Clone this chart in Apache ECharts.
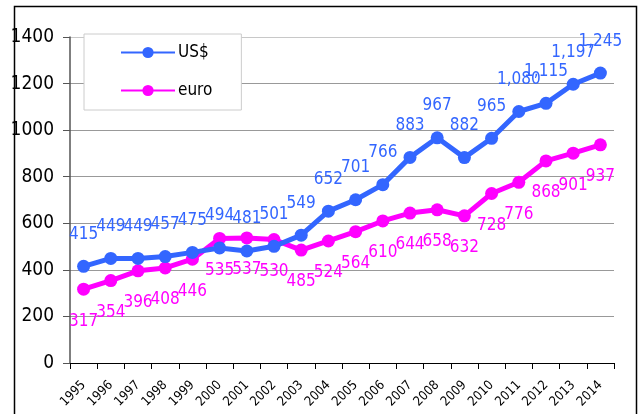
<!DOCTYPE html>
<html>
<head>
<meta charset="UTF-8">
<title>US$ / euro</title>
<style>
  html, body { margin: 0; padding: 0; background: #fff; }
  #chart { width: 643px; height: 414px; }
</style>
</head>
<body>
<div id="chart"></div>
<script src="https://cdn.jsdelivr.net/npm/echarts@6/dist/echarts.min.js"></script>
<script>
var years = ['1995', '1996', '1997', '1998', '1999', '2000', '2001', '2002', '2003', '2004',
             '2005', '2006', '2007', '2008', '2009', '2010', '2011', '2012', '2013', '2014'];
var usd = [415, 449, 449, 457, 475, 494, 481, 501, 549, 652, 701, 766, 883, 967, 882, 965, 1080, 1115, 1197, 1245];
var euro = [317, 354, 396, 408, 446, 535, 537, 530, 485, 524, 564, 610, 644, 658, 632, 728, 776, 868, 901, 937];

var narrow = '"DejaVu Sans Condensed", "Liberation Sans", sans-serif';
var blue = '#3366ff';
var pink = '#ff00ff';

function withComma(v) {
    return String(v).replace(/\B(?=(\d{3})+(?!\d))/g, ',');
}

var chart = echarts.init(document.getElementById('chart'));

var option = {
    animation: false,
    grid: { left: 70, right: 29, top: 37, bottom: 51 },
    legend: {
        orient: 'vertical',
        left: 84,
        top: 34,
        padding: [10, 29, 11, 36],
        itemGap: 21,
        itemWidth: 54,
        itemHeight: 14,
        borderColor: '#cccccc',
        borderWidth: 1,
        backgroundColor: '#fff',
        textStyle: { fontFamily: narrow, fontSize: 17, color: '#000', padding: [0, 0, 0, -2] },
        data: ['US$', 'euro']
    },
    xAxis: {
        type: 'category',
        data: years,
        boundaryGap: true,
        axisLine: { lineStyle: { color: '#000', width: 1 } },
        axisTick: { show: true, alignWithLabel: false, length: 6, lineStyle: { color: '#000' } },
        axisLabel: { rotate: 45, fontFamily: narrow, fontSize: 13, color: '#000', margin: 20, interval: 0 }
    },
    yAxis: {
        type: 'value',
        min: 0,
        max: 1400,
        interval: 200,
        axisLine: { show: true, lineStyle: { color: '#555', width: 1.5 } },
        axisTick: { show: true, length: 7, lineStyle: { color: '#555' } },
        axisLabel: {
            fontFamily: narrow, fontSize: 19, color: '#000', margin: 16,
            formatter: function (v) { return String(v); }
        },
        // top gridline is lighter in the original
        splitLine: { lineStyle: { color: ['#999', '#999', '#999', '#999', '#999', '#999', '#999', '#c8c8c8'], width: 1 } }
    },
    series: [
        {
            name: 'US$',
            type: 'line',
            data: usd,
            symbol: 'circle',
            symbolSize: 13,
            lineStyle: { color: blue, width: 5 },
            itemStyle: { color: blue },
            label: {
                show: true,
                position: 'top',
                distance: 17,
                fontFamily: narrow,
                fontSize: 17,
                color: blue,
                formatter: function (p) { return withComma(p.value); }
            },
            z: 3
        },
        {
            name: 'euro',
            type: 'line',
            data: euro,
            symbol: 'circle',
            symbolSize: 13,
            lineStyle: { color: pink, width: 5 },
            itemStyle: { color: pink },
            label: {
                show: true,
                position: 'bottom',
                distance: 17,
                fontFamily: narrow,
                fontSize: 17,
                color: pink
            },
            z: 2
        }
    ],
    graphic: [
        {
            type: 'rect',
            shape: { x: 14.5, y: 6.5, width: 622, height: 430 },
            style: { fill: 'none', stroke: '#000', lineWidth: 1.5 },
            silent: true
        }
    ]
};

chart.setOption(option);
</script>
</body>
</html>
